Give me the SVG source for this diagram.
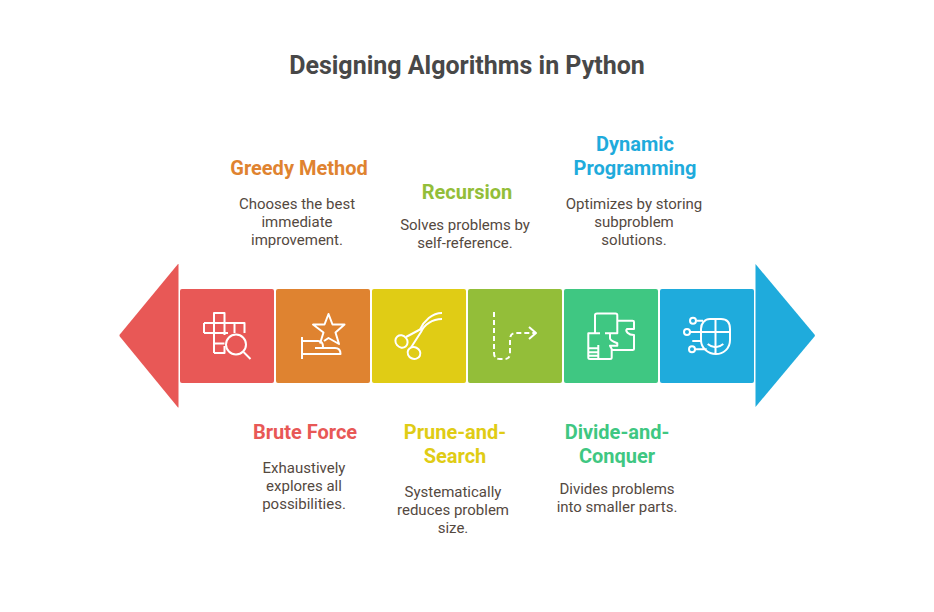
<svg xmlns="http://www.w3.org/2000/svg" width="934" height="612" viewBox="0 0 934 612">
<style>
text{font-family:Roboto,"Liberation Sans",sans-serif;text-anchor:middle}
.t{font-size:25px;font-weight:700;fill:#484848}
.h{font-size:20px;font-weight:700}
.b{font-size:15px;fill:#54493f}
.i{fill:none;stroke:#fff;stroke-width:2;stroke-linejoin:round}
</style>
<rect width="934" height="612" fill="#fff"/>
<text class="t" x="467" y="74">Designing Algorithms in Python</text>
<g id="connectors"></g>
<g id="brute-force">
<path d="M178.500 264V407.500H178L119.800 336.500Q119 335.500 119.800 334.500L178 264Z" fill="#e85856"/>
<rect x="180" y="289" width="94" height="94" rx="2" fill="#e85856"/>
<path class="i" d="M214 353V313H224.500V335M204 323H244.500V333M204 333V323M204 333H228M214 333V323M224.500 333V323M234.500 323V333M214 343.500H224.500M214 353H224.500V346"/>
<circle class="i" cx="236" cy="344.500" r="10"/>
<path class="i" d="M243.500 352L250.500 359"/>
<text class="h" x="305" y="438.500" fill="#e85856">Brute Force</text>
<text class="b" x="304" y="473">Exhaustively</text>
<text class="b" x="304" y="491">explores all</text>
<text class="b" x="304" y="509">possibilities.</text>
</g>
<g id="greedy-method">
<rect x="276" y="289" width="94" height="94" rx="2" fill="#df8330"/>
<path class="i" d="M320 343.500L323.500 332.500L313 324.500L324.500 324.500L328.500 314L332.500 324.500L344.500 324.500L335.500 332.500L339 344L328.500 338L324 341"/>
<path class="i" d="M302 337V359M302 341H318C321 341 323 343 323 347M315 348H335C339 348 340.500 350 340.500 354H302"/>
<text class="h" x="299" y="174.500" fill="#df8330">Greedy Method</text>
<text class="b" x="297" y="209">Chooses the best</text>
<text class="b" x="297" y="227">immediate</text>
<text class="b" x="297" y="245">improvement.</text>
</g>
<g id="prune-and-search">
<rect x="372" y="289" width="94" height="94" rx="2" fill="#e0cc15"/>
<ellipse class="i" cx="401.500" cy="341.500" rx="6.500" ry="5.800" transform="rotate(50 401.500 341.500)"/>
<ellipse class="i" cx="414" cy="353" rx="6.500" ry="5.800" transform="rotate(25 414 353)"/>
<path class="i" d="M406 337L420 329.500C424 321 432 313 442 313M411 347.500L421 332C424 325 432 319 442 319"/>
<text class="h" x="455" y="438.500" fill="#e0cc15">Prune-and-</text>
<text class="h" x="455" y="462.500" fill="#e0cc15">Search</text>
<text class="b" x="453" y="497">Systematically</text>
<text class="b" x="453" y="515">reduces problem</text>
<text class="b" x="453" y="533">size.</text>
</g>
<g id="recursion">
<rect x="468" y="289" width="94" height="94" rx="2" fill="#93be39"/>
<path class="i" d="M494 312V353C494 357 496 359 500 359H505C508 359 510 357 510 353V340C510 335 512 333 516 333H535" stroke-dasharray="5 3"/>
<path class="i" d="M529 327L536 333L529 339"/>
<text class="h" x="467" y="198.500" fill="#93be39">Recursion</text>
<text class="b" x="465" y="230">Solves problems by</text>
<text class="b" x="465" y="248">self-reference.</text>
</g>
<g id="divide-and-conquer">
<rect x="564" y="289" width="94" height="94" rx="2" fill="#3fc782"/>
<path class="i" d="M595 333V315Q595 313.500 597 313.500H615.500Q617.300 313.500 617.300 315V333.300H605M617.300 320.700H632.500Q634 320.700 634 322V329H627C625 331 628 335 634 335V348.500Q634 350 632.500 350H611.700"/>
<path class="i" d="M600 333.300H588.300V357.500Q588.300 359 590 359H610Q611.700 359 611.700 357.500V349L610 345.700H617.300V343.300C614 342 610 340 610 338.300V333.300"/>
<path class="i" d="M588.300 348.300H598.300M588.300 352.300H598.300M588.300 355.700H598.300M598.300 345V359"/>
<text class="h" x="617" y="438.500" fill="#3fc782">Divide-and-</text>
<text class="h" x="617" y="462.500" fill="#3fc782">Conquer</text>
<text class="b" x="617" y="494">Divides problems</text>
<text class="b" x="617" y="512">into smaller parts.</text>
</g>
<g id="dynamic-programming">
<rect x="660" y="289" width="94" height="94" rx="2" fill="#1fabdc"/>
<path d="M755.500 264L814.500 334.500Q815.300 335.500 814.500 336.500L755.500 407Z" fill="#1fabdc"/>
<path class="i" d="M701 329C701 323 705 319 710 319H721C727 319 730 323 730 329V340C730 349 723 354 716 354C708 354 701 348 701 340ZM715.500 319V354M701 332H730M707.700 344Q715.500 350.500 723.300 344M696.700 320.700H703M690 332H701M692.300 341H701.700M695 349.300H706.700"/>
<circle class="i" cx="693" cy="320.700" r="3"/>
<circle class="i" cx="687" cy="332" r="3"/>
<circle class="i" cx="692" cy="349.300" r="3"/>
<text class="h" x="635" y="150.500" fill="#1fabdc">Dynamic</text>
<text class="h" x="635" y="174.500" fill="#1fabdc">Programming</text>
<text class="b" x="634" y="209">Optimizes by storing</text>
<text class="b" x="634" y="227">subproblem</text>
<text class="b" x="634" y="245">solutions.</text>
</g>
</svg>
